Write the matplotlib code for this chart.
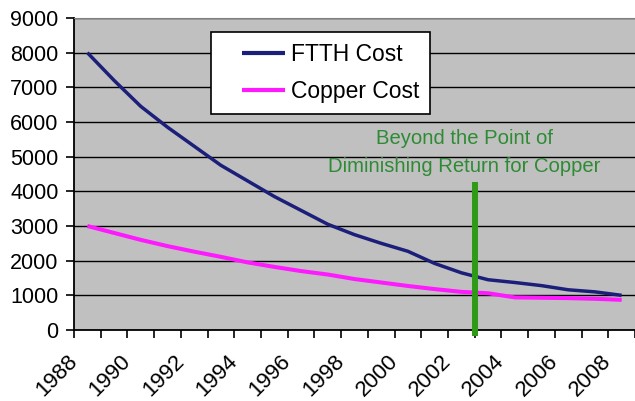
import matplotlib
matplotlib.use("Agg")
import matplotlib.pyplot as plt
import matplotlib.transforms as mtransforms
from matplotlib.legend_handler import HandlerLine2D
import numpy as np

YEARS = list(range(1988, 2009))
FTTH_COST = [8000, 7200, 6450, 5850, 5300, 4750, 4300, 3850, 3450, 3050, 2750,
             2500, 2270, 1920, 1650, 1450, 1370, 1280, 1160, 1100, 1000]
COPPER_COST = [3000, 2800, 2600, 2420, 2260, 2110, 1950, 1820, 1700, 1600, 1470,
               1370, 1270, 1180, 1100, 1060, 940, 930, 920, 900, 870]
Y_TICKS = [0, 1000, 2000, 3000, 4000, 5000, 6000, 7000, 8000, 9000]
MARKER_X = 14.5          # boundary between 2002 and 2003
MARKER_TOP = 4260
NOTE = "Beyond the Point of\nDiminishing Return for Copper"


class RightLine(HandlerLine2D):
    """Legend line drawn only on the right part of the handle box."""
    seg = 31.0  # points

    def get_xdata(self, legend, xdescent, ydescent, width, height, fontsize):
        x1 = -xdescent + width
        xs = [x1 - self.seg, x1]
        return xs, xs


plt.rcParams["font.family"] = ["Liberation Sans", "DejaVu Sans"]

W, H = 635, 401
fig = plt.figure(figsize=(W / 100, H / 100), dpi=100)
left, bottom, top = 74, 330, 18
ax = fig.add_axes([left / W, 1 - bottom / H, 1 - left / W, (bottom - top) / H])
ax.set_facecolor("#c0c0c0")

x = np.arange(len(YEARS))
ax.plot(x, FTTH_COST, color="#1c1f7a", lw=2.5, label="FTTH Cost", solid_capstyle="butt")
ax.plot(x, COPPER_COST, color="#ff19ff", lw=2.9, label="Copper Cost", solid_capstyle="butt")

ax.plot([MARKER_X, MARKER_X], [-170, MARKER_TOP], color="#2f9a16", lw=4.3,
        clip_on=False, solid_capstyle="butt", zorder=5)
ax.text(14.1, 5130, NOTE, color="#2e8b34", fontsize=14.6, ha="center", va="center",
        linespacing=1.6)

ax.set_ylim(0, 9000)
ax.set_xlim(-0.5, (W - left) / 26.9 - 0.5)
ax.set_yticks(Y_TICKS)
ax.set_yticklabels([str(v) for v in Y_TICKS], fontsize=15.5)
ax.yaxis.grid(True, color="black", lw=1.0)
ax.set_axisbelow(True)

# ticks sit between categories, labels on every other year
ax.set_xticks(np.arange(len(YEARS) + 1) - 0.5)
ax.set_xticklabels([])
ax.set_xticks(x[::2], minor=True)
ax.set_xticklabels([str(y) for y in YEARS[::2]], minor=True, rotation=45,
                   ha="right", fontsize=16)
ax.tick_params(axis="x", which="minor", length=0, pad=15)
ax.tick_params(axis="x", which="major", length=6, width=1.2, direction="out")
ax.tick_params(axis="y", length=6, width=1.2, pad=5)
shift = mtransforms.ScaledTranslation(-6 / 100, 0, fig.dpi_scale_trans)
for lab in ax.get_xticklabels(minor=True):
    lab.set_transform(lab.get_transform() + shift)

ax.spines["right"].set_visible(False)
ax.spines["top"].set_color("#808080")
ax.spines["left"].set_linewidth(1.3)
ax.spines["bottom"].set_linewidth(1.3)

leg = ax.legend(loc="upper left", bbox_to_anchor=(211 / W, 1 - 32 / H),
                bbox_transform=fig.transFigure, fontsize=16.5, frameon=True,
                fancybox=False, edgecolor="black", framealpha=1,
                handlelength=2.75, handletextpad=0.22, borderpad=0.5,
                labelspacing=0.58, borderaxespad=0,
                handler_map={matplotlib.lines.Line2D: RightLine()})
leg.get_frame().set_linewidth(1.2)
for line in leg.get_lines():
    line.set_linewidth(3.0)

fig.savefig("out.png", dpi=100)
